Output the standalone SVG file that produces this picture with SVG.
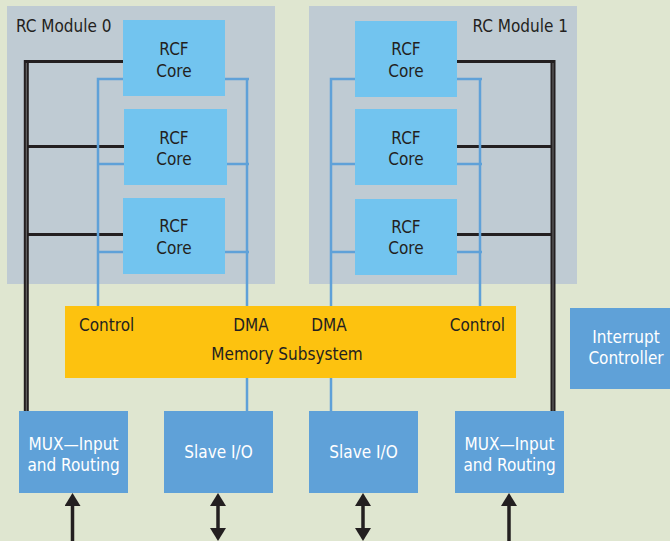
<svg xmlns="http://www.w3.org/2000/svg" width="670" height="541" viewBox="0 0 670 541">
<defs>
<style>
.bg{fill:#dfe6d0}
.mod{fill:#bfcbd3}
.core{fill:#72c4ef}
.box{fill:#5fa1d8}
.mem{fill:#fdc20f}
.t{font-family:"Liberation Sans Narrow","DejaVu Sans Condensed","Liberation Sans",sans-serif;font-size:17px;fill:#231f20}
.w{fill:#ffffff}
.m{text-anchor:middle}
.blk{stroke:#231f20;stroke-width:3;fill:none}
.blkv{stroke:#231f20;stroke-width:5;fill:none}
.blkc{stroke:#6e6e6e;stroke-width:1;fill:none}
.blu{stroke:#5fa1d8;stroke-width:2.5;fill:none}
.arr{stroke:#231f20;stroke-width:3.5;fill:none}
</style>
<marker id="ah" viewBox="0 0 13 16" refX="0" refY="8" markerWidth="13" markerHeight="16" markerUnits="userSpaceOnUse" orient="auto-start-reverse">
<path d="M0,0 L13,8 L0,16 Z" fill="#231f20"/>
</marker>
</defs>
<rect class="bg" x="0" y="0" width="670" height="541"/>
<g id="module0">
<rect class="mod" x="7" y="6" width="268" height="278"/>
<text class="t" x="16" y="32">RC Module 0</text>
</g>
<g id="module1">
<rect class="mod" x="309" y="6" width="268" height="278"/>
<text class="t" x="568" y="32" text-anchor="end">RC Module 1</text>
</g>
<g id="connectors">
<path class="blk" d="M24,61.5 H123 M24,146.5 H124 M24,234.5 H123"/>
<path class="blkv" d="M26.3,60 V412"/>
<path class="blkc" d="M26.3,63 V412"/>
<path class="blk" d="M457,61.5 H555 M457,146.5 H555 M457,234.5 H555"/>
<path class="blkv" d="M553,60 V412"/>
<path class="blkc" d="M553,63 V412"/>
<path class="blu" d="M98,306 V79 H123 M98,164 H124 M98,252 H123"/>
<path class="blu" d="M247,412 V79 H225 M249,79 H225 M249,164 H227 M249,252 H225"/>
<path class="blu" d="M331,412 V79 H355 M331,164 H355 M331,252 H355"/>
<path class="blu" d="M480,306 V79 H457 M482,79 H457 M482,164 H457 M482,252 H457"/>
<path class="arr" d="M72.5,541 V506" marker-end="url(#ah)"/>
<path class="arr" d="M218,506 V528" marker-start="url(#ah)" marker-end="url(#ah)"/>
<path class="arr" d="M363,506 V528" marker-start="url(#ah)" marker-end="url(#ah)"/>
<path class="arr" d="M509,541 V506" marker-end="url(#ah)"/>
</g>
<g id="core0a"><rect class="core" x="123" y="20" width="102" height="76"/><text class="t m" x="174" y="55">RCF</text><text class="t m" x="174" y="77">Core</text></g>
<g id="core0b"><rect class="core" x="124" y="109" width="103" height="76"/><text class="t m" x="174" y="144">RCF</text><text class="t m" x="174" y="165">Core</text></g>
<g id="core0c"><rect class="core" x="123" y="198" width="102" height="76"/><text class="t m" x="174" y="232">RCF</text><text class="t m" x="174" y="254">Core</text></g>
<g id="core1a"><rect class="core" x="355" y="21" width="102" height="76"/><text class="t m" x="406" y="55">RCF</text><text class="t m" x="406" y="77">Core</text></g>
<g id="core1b"><rect class="core" x="355" y="109" width="102" height="76"/><text class="t m" x="406" y="144">RCF</text><text class="t m" x="406" y="165">Core</text></g>
<g id="core1c"><rect class="core" x="355" y="199" width="102" height="76"/><text class="t m" x="406" y="233">RCF</text><text class="t m" x="406" y="254">Core</text></g>
<g id="memory">
<rect class="mem" x="65" y="306" width="451" height="72"/>
<text class="t" x="79" y="331">Control</text>
<text class="t m" x="251" y="331">DMA</text>
<text class="t m" x="329" y="331">DMA</text>
<text class="t" x="505" y="331" text-anchor="end">Control</text>
<text class="t m" x="287" y="360">Memory Subsystem</text>
</g>
<g id="interrupt">
<rect class="box" x="570" y="308" width="100" height="81"/>
<text class="t w m" x="626" y="343">Interrupt</text>
<text class="t w m" x="626" y="364">Controller</text>
</g>
<g id="mux0">
<rect class="box" x="19" y="411" width="109" height="82"/>
<text class="t w m" x="73.5" y="450">MUX—Input</text>
<text class="t w m" x="73.5" y="471">and Routing</text>
</g>
<g id="slave0">
<rect class="box" x="164" y="411" width="109" height="82"/>
<text class="t w m" x="218.5" y="458">Slave I/O</text>
</g>
<g id="slave1">
<rect class="box" x="309" y="411" width="109" height="82"/>
<text class="t w m" x="363.5" y="458">Slave I/O</text>
</g>
<g id="mux1">
<rect class="box" x="455" y="411" width="109" height="82"/>
<text class="t w m" x="509.5" y="450">MUX—Input</text>
<text class="t w m" x="509.5" y="471">and Routing</text>
</g>
</svg>
